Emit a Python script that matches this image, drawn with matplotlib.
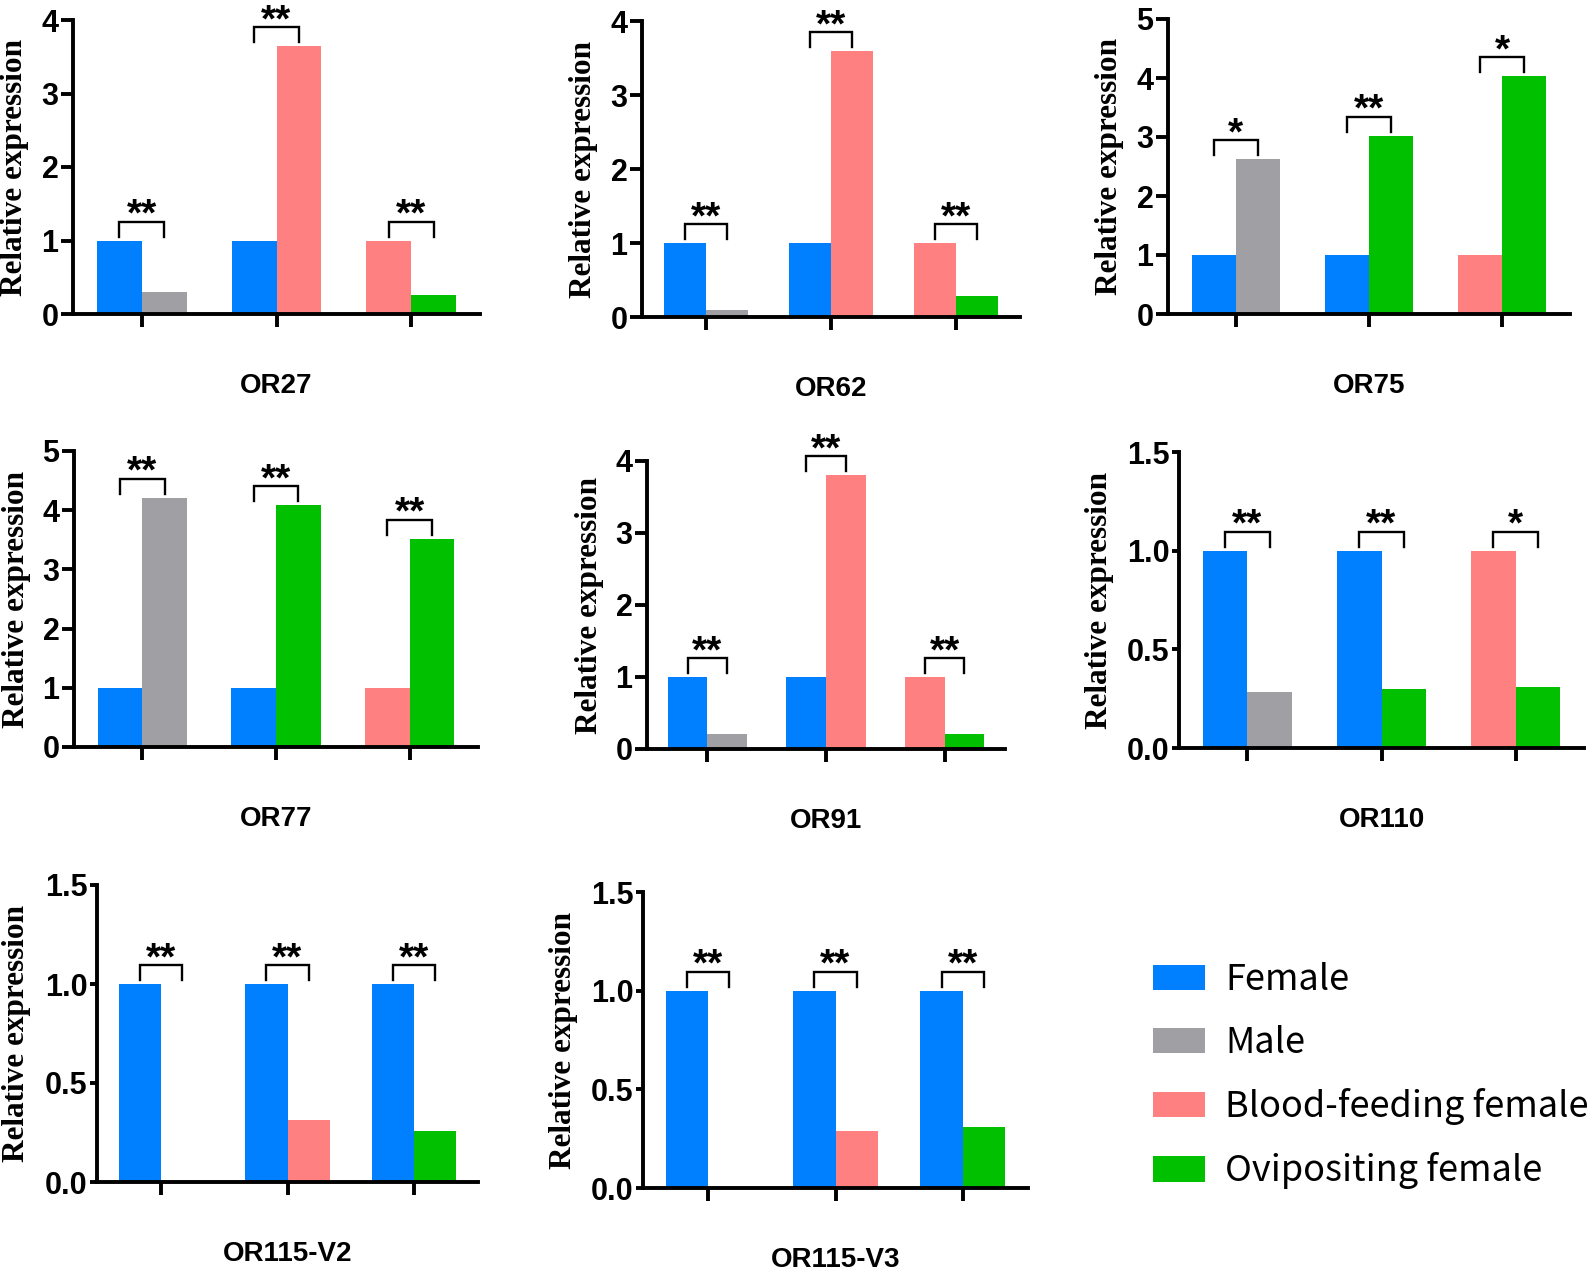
import matplotlib
matplotlib.use('Agg')
import matplotlib.pyplot as plt
from matplotlib.patches import Patch

plt.rcParams['font.family'] = ['Liberation Sans', 'DejaVu Sans']

W, H = 1594, 1270

series_names = ['Female', 'Male', 'Blood-feeding female', 'Ovipositing female']
series_colors = ['#007FFF', '#A0A0A4', '#FF8080', '#00C000']
colors = dict(zip(series_names, series_colors))

genes = ['OR27', 'OR62', 'OR75', 'OR77', 'OR91', 'OR110', 'OR115-V2', 'OR115-V3']

# the two groups compared in each cluster of bars
pairs_blood = [('Female', 'Male'), ('Female', 'Blood-feeding female'),
               ('Blood-feeding female', 'Ovipositing female')]
pairs_ovip = [('Female', 'Male'), ('Female', 'Ovipositing female'),
              ('Blood-feeding female', 'Ovipositing female')]
pairs_female = [('Female', 'Male'), ('Female', 'Blood-feeding female'),
                ('Female', 'Ovipositing female')]
gene_pairs = [pairs_blood, pairs_blood, pairs_ovip, pairs_ovip,
              pairs_blood, pairs_ovip, pairs_female, pairs_female]

# left bar of every pair is the calibrator (=1)
ref_values = [1.0, 1.0, 1.0]
cmp_OR27 = [0.30, 3.64, 0.26]
cmp_OR62 = [0.09, 3.59, 0.28]
cmp_OR75 = [2.62, 3.02, 4.03]
cmp_OR77 = [4.21, 4.08, 3.52]
cmp_OR91 = [0.21, 3.80, 0.21]
cmp_OR110 = [0.285, 0.30, 0.31]
cmp_OR115_V2 = [0.0, 0.315, 0.256]
cmp_OR115_V3 = [0.0, 0.287, 0.309]
cmp_values = [cmp_OR27, cmp_OR62, cmp_OR75, cmp_OR77, cmp_OR91,
              cmp_OR110, cmp_OR115_V2, cmp_OR115_V3]

stars = [['**', '**', '**'], ['**', '**', '**'], ['*', '**', '*'],
         ['**', '**', '**'], ['**', '**', '**'], ['**', '**', '*'],
         ['**', '**', '**'], ['**', '**', '**']]

ymax = [4, 4, 5, 5, 4, 1.5, 1.5, 1.5]

# axes boxes in pixels: left, right, top, bottom
axes_px = [(73, 480, 20, 314), (642, 1020, 21, 317), (1168, 1570, 19, 314),
           (74, 478, 451, 747), (647, 1005, 461, 749), (1179, 1584, 452, 748),
           (97, 478, 885, 1182), (643, 1028, 892, 1188)]

fig = plt.figure(figsize=(W / 100, H / 100), dpi=100)

for i, gene in enumerate(genes):
    l, r, t, b = axes_px[i]
    ax = fig.add_axes([l / W, 1 - b / H, (r - l) / W, (b - t) / H])
    ppu = (b - t) / ymax[i]
    for g, (a, c) in enumerate(gene_pairs[i]):
        v1 = ref_values[g]
        v2 = cmp_values[i][g]
        ax.bar(g - 1 / 6, v1, width=1 / 3, color=colors[a], linewidth=0)
        ax.bar(g + 1 / 6, v2, width=1 / 3, color=colors[c], linewidth=0)
        top = max(v1, v2) + 19 / ppu
        leg = 15 / ppu
        ax.plot([g - 1 / 6, g - 1 / 6, g + 1 / 6, g + 1 / 6],
                [top - leg, top, top, top - leg], color='k', lw=1.7,
                clip_on=False, solid_joinstyle='miter')
        ax.text(g, top - 4 / ppu, stars[i][g], ha='center', va='baseline',
                fontsize=28, fontweight='bold')

    ax.set_xlim(-0.51, 2.51)
    ax.set_ylim(0, ymax[i])
    ax.set_xticks([0, 1, 2])
    ax.set_xticklabels([])
    if ymax[i] == 1.5:
        yt = [0, 0.5, 1.0, 1.5]
        ax.set_yticks(yt)
        ax.set_yticklabels(['%.1f' % v for v in yt], fontsize=22, fontweight='bold')
        lab_off = 80
        ylen = 5
    else:
        yt = list(range(ymax[i] + 1))
        ax.set_yticks(yt)
        ax.set_yticklabels([str(v) for v in yt], fontsize=22, fontweight='bold')
        lab_off = 58
        ylen = 8.5
    for sp in ['top', 'right']:
        ax.spines[sp].set_visible(False)
    for sp in ['left', 'bottom']:
        ax.spines[sp].set_linewidth(2.8)
    ax.tick_params(axis='x', length=9.5, width=2.8, direction='out')
    ax.tick_params(axis='y', length=ylen, width=2.8, direction='out', pad=2)

    w_px = r - l
    h_px = b - t
    ax.text(-lab_off / w_px, 0.5, 'Relative expression', transform=ax.transAxes,
            rotation=90, ha='center', va='center', fontsize=22.5,
            fontweight='bold', family='Liberation Serif')
    ax.text(0.5, -72 / h_px, gene, transform=ax.transAxes, ha='center',
            va='center', fontsize=20, fontweight='bold')

handles = [Patch(facecolor=c, edgecolor='none', label=n)
           for n, c in zip(series_names, series_colors)]
fig.legend(handles=handles, loc='upper left',
           bbox_to_anchor=(1153 / W, 1 - 962 / H), frameon=False,
           prop={'family': 'Noto Sans CJK JP', 'size': 26},
           handlelength=1.45, handleheight=0.72, handletextpad=0.55,
           labelspacing=0.75, borderpad=0, borderaxespad=0)

fig.savefig('out.png', dpi=100)
